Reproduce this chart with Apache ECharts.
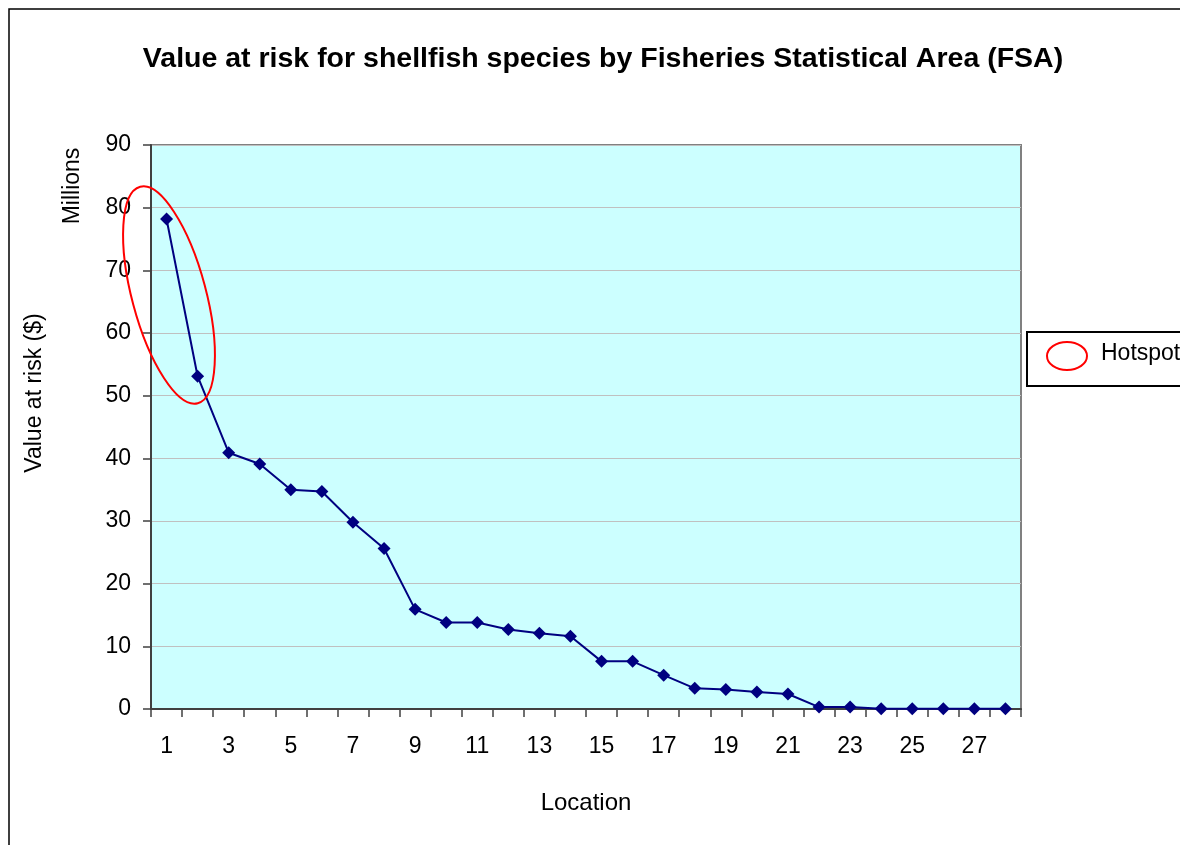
<!DOCTYPE html>
<html>
<head>
<meta charset="utf-8">
<script src="https://cdn.jsdelivr.net/npm/echarts@6/dist/echarts.min.js"></script>
<style>
html,body{margin:0;padding:0;background:#fff;}
#c{width:1180px;height:845px;}
</style>
</head>
<body>
<div id="c"></div>
<script>
const categories = ['1','2','3','4','5','6','7','8','9','10','11','12','13','14','15','16','17','18','19','20','21','22','23','24','25','26','27','28'];
const values = [78.2,53.1,40.9,39.1,35.0,34.7,29.8,25.6,15.9,13.8,13.8,12.7,12.1,11.6,7.6,7.6,5.4,3.3,3.1,2.7,2.4,0.3,0.3,0.05,0.05,0.05,0.05,0.05];
const yTicks = [0,10,20,30,40,50,60,70,80,90];
const titleText = 'Value at risk for shellfish species by Fisheries Statistical Area (FSA)';
const legendText = 'Hotspot';

const chart = echarts.init(document.getElementById('c'), null, {renderer:'canvas'});
const font = 'Liberation Sans, Arial, sans-serif';
const nfont = '"Liberation Sans Narrow", "Arial Narrow", "Liberation Sans", sans-serif';
chart.setOption({
  animation:false,
  backgroundColor:'#ffffff',
  title:{
    text:titleText, left:598, top:40,
    textAlign:'center',
    textStyle:{fontFamily:font, fontWeight:'bold', fontSize:28.5, color:'#000'}
  },
  grid:{left:151, right:159, top:145, bottom:136, show:true, backgroundColor:'#ccffff', borderColor:'#808080', borderWidth:2},
  xAxis:{
    type:'category', data:categories, boundaryGap:true,
    name:'Location', nameLocation:'middle', nameGap:82,
    nameTextStyle:{fontFamily:nfont, fontSize:24, color:'#000'},
    axisLine:{lineStyle:{color:'#404040', width:2}},
    axisTick:{show:true, interval:0, length:8, lineStyle:{color:'#404040', width:1.5}},
    axisLabel:{interval:1, fontFamily:nfont, fontSize:23, color:'#000', margin:26},
    splitLine:{show:false}
  },
  yAxis:{
    type:'value', min:yTicks[0], max:yTicks[yTicks.length-1], interval:10,
    axisLine:{show:true, lineStyle:{color:'#404040', width:2}},
    axisTick:{show:true, length:8, lineStyle:{color:'#404040', width:1.5}},
    axisLabel:{fontFamily:nfont, fontSize:23, color:'#000', margin:20},
    splitLine:{show:true, lineStyle:{color:'#c0c0c0', width:1}}
  },
  series:[{
    type:'line', data:values,
    symbol:'diamond', symbolSize:13,
    lineStyle:{color:'#000080', width:2},
    itemStyle:{color:'#000080'}
  }],
  graphic:[
    {type:'rect', shape:{x:9,y:9,width:1200,height:900}, style:{fill:null, stroke:'#000', lineWidth:1.5}, silent:true, z:-1},
    {type:'text', x:35, y:393, rotation:Math.PI/2, style:{text:'Value at risk ($)', font:'23px "Liberation Sans Narrow", "Liberation Sans", Arial', fill:'#000', textAlign:'center', textVerticalAlign:'middle'}},
    {type:'text', x:73, y:186, rotation:Math.PI/2, style:{text:'Millions', font:'23px "Liberation Sans Narrow", "Liberation Sans", Arial', fill:'#000', textAlign:'center', textVerticalAlign:'middle'}},
    {type:'ellipse', x:169, y:295, rotation:0.26, shape:{cx:0, cy:0, rx:37, ry:112}, style:{fill:null, stroke:'#ff0000', lineWidth:2}, z:100},
    {type:'rect', shape:{x:1027,y:332,width:200,height:54}, style:{fill:'#fff', stroke:'#000', lineWidth:2}},
    {type:'ellipse', shape:{cx:1067, cy:356, rx:20, ry:14}, style:{fill:null, stroke:'#ff0000', lineWidth:2}},
    {type:'text', x:1101, y:354, style:{text:legendText, font:'23px "Liberation Sans Narrow", "Liberation Sans", Arial', fill:'#000', textVerticalAlign:'middle'}}
  ]
});
</script>
</body>
</html>
